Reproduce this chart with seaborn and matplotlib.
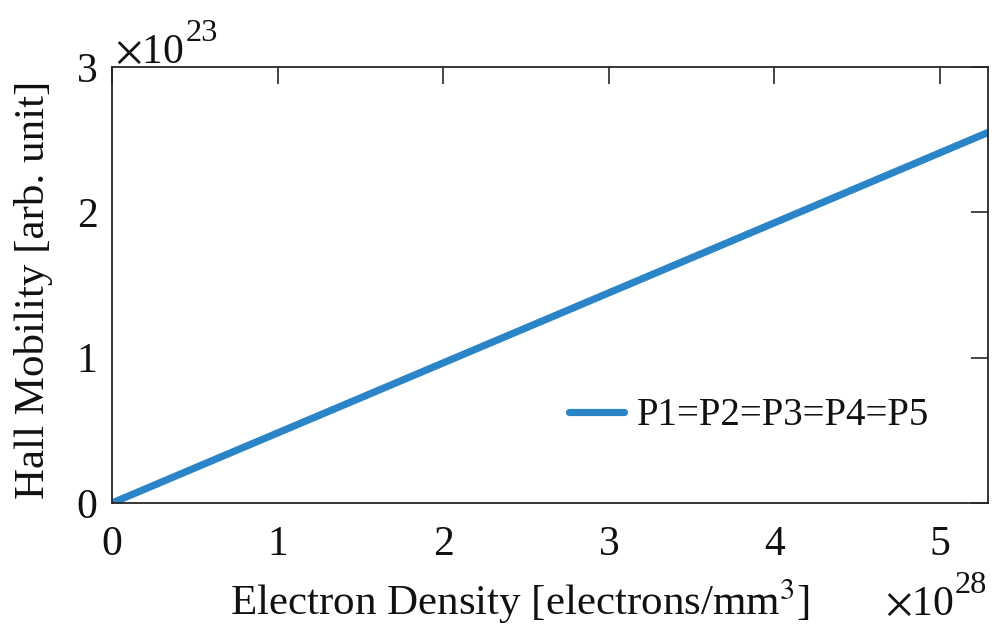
import numpy as np
import matplotlib
matplotlib.use("Agg")
import matplotlib.pyplot as plt
import seaborn as sns
import pandas as pd

# Hall mobility vs electron density (linear relation)
electron_density = [0.0, 5.3e28]
hall_mobility = [0.0, 2.555e23]
series_label = "P1=P2=P3=P4=P5"
x_ticks = [0, 1, 2, 3, 4, 5]
y_ticks = [0, 1, 2, 3]
x_exp = 28
y_exp = 23

sns.set_theme(style="white")
plt.rcParams["font.family"] = ["Liberation Serif", "DejaVu Serif"]
plt.rcParams["mathtext.fontset"] = "stix"

TICK_FS = 30
LABEL_FS = 31
TXT = "#111111"
EDGE = "#262626"
BLUE = "#2a85c8"
LW = 5.2

df = pd.DataFrame({"density": electron_density, "mobility": hall_mobility,
                   "series": series_label})

fig = plt.figure(figsize=(9.95, 6.27), dpi=100)
ax = fig.add_axes([0.1126, 0.1978, 0.8804, 0.6952])

sns.lineplot(data=df, x="density", y="mobility", hue="series",
             palette=[BLUE], linewidth=LW, ax=ax)

ax.set_xlim(0, 5.29 * 10.0 ** x_exp)
ax.set_ylim(0, 3 * 10.0 ** y_exp)
ax.set_xticks([t * 10.0 ** x_exp for t in x_ticks])
ax.set_xticklabels([str(t) for t in x_ticks])
ax.set_yticks([t * 10.0 ** y_exp for t in y_ticks])
ax.set_yticklabels([str(t) for t in y_ticks])

for s in ax.spines.values():
    s.set_visible(True)
    s.set_color(EDGE)
    s.set_linewidth(1.3)
ax.tick_params(direction="in", length=12, width=1.2, colors=EDGE,
               labelsize=TICK_FS, top=True, right=True)
ax.tick_params(axis="x", pad=16)
ax.tick_params(axis="y", pad=10.5)
for lab in ax.get_xticklabels() + ax.get_yticklabels():
    lab.set_color(TXT)

ax.set_xlabel("Electron Density [electrons/mm$^{3}$]", fontsize=LABEL_FS,
              color=TXT)
ax.xaxis.label.set_va("baseline")
ax.xaxis.set_label_coords(0.466, -0.257)
ax.set_ylabel("Hall Mobility [arb. unit]", fontsize=LABEL_FS, color=TXT)
ax.yaxis.set_label_coords(-0.067, 0.489)


def power_label(x, y, exp):
    """Draw a '×10^exp' multiplier with its base-line at (x, y) in axes units."""
    base = ax.text(x, y, r"$\times$10", transform=ax.transAxes,
                   fontsize=TICK_FS, ha="left", va="baseline", color=TXT)
    ax.annotate(str(exp), xy=(1.0, 0.62), xycoords=base,
                xytext=(1, 0), textcoords="offset points",
                fontsize=TICK_FS * 0.78, ha="left", va="bottom", color=TXT)


power_label(0.0035, 1.009, y_exp)
power_label(0.882, -0.257, x_exp)

leg = ax.legend(loc="center left", bbox_to_anchor=(0.482, 0.2), frameon=False,
                fontsize=28, handlelength=1.4, handletextpad=0.35)
for line in leg.get_lines():
    line.set_linewidth(LW)
for t in leg.get_texts():
    t.set_color(TXT)

fig.savefig("out.png", dpi=100)
